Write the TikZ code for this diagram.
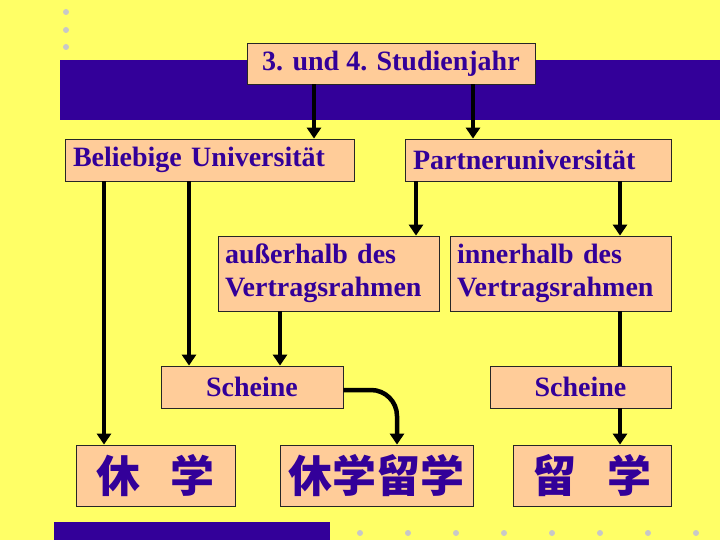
\documentclass[tikz,border=0pt]{standalone}
\usepackage{fontspec}
\setmainfont{Liberation Serif}
\newfontfamily\cjk{Noto Sans CJK SC}
\usetikzlibrary{arrows.meta}
\definecolor{bgyellow}{HTML}{FFFF66}
\definecolor{bandpurple}{HTML}{330099}
\definecolor{boxpeach}{HTML}{FFCC99}
\definecolor{dotgray}{HTML}{C8C8C8}

\begin{document}
\begin{tikzpicture}[
    x=1pt, y=-1pt,
    >={Triangle[length=11pt,width=14pt]},
    conn/.style={->,line width=4.5pt,black},
    plainconn/.style={line width=4.5pt,black},
    box/.style={draw=black!85,line width=0.8pt,fill=boxpeach,text=bandpurple,
        font=\bfseries\fontsize{28}{33}\selectfont,inner sep=0pt},
    hanbox/.style={box,font=\cjk\bfseries\fontsize{44}{44}\selectfont,
        minimum height=61pt},
]
% === Background and slide decoration ===
\useasboundingbox (0,0) rectangle (720,540);
\fill[bgyellow] (0,0) rectangle (720,540);
\fill[bandpurple] (60,60) rectangle (720,120);
\fill[bandpurple] (54,522) rectangle (330,540);
\foreach \y in {12,30,47}
    \fill[dotgray] (66,\y) circle (3);
\foreach \x in {360,408,...,696}
    \fill[dotgray] (\x,533) circle (3);

% === Boxes ===
\node[box,minimum width=288pt,minimum height=41pt] (top) at (391,63.5)
    {3. und 4. Studienjahr};
\node[box,minimum width=289pt,minimum height=42pt,text width=273pt,align=left]
    (beliebig) at (209.5,160) {Beliebige Universität};
\node[box,minimum width=266pt,minimum height=42pt,text width=250pt,align=left]
    (partner) at (538,160) {Partneruniversität};
\node[box,minimum width=221pt,minimum height=75pt,text width=207pt,align=left]
    (ausser) at (328.5,273.5) {außerhalb des\\Vertragsrahmen};
\node[box,minimum width=221pt,minimum height=75pt,text width=207pt,align=left]
    (inner) at (560.5,273.5) {innerhalb des\\Vertragsrahmen};
\node[box,minimum width=182pt,minimum height=42pt] (scheineL) at (252,387) {Scheine};
\node[box,minimum width=181pt,minimum height=42pt] (scheineR) at (580.5,387) {Scheine};
\node[hanbox,minimum width=159pt] (xiuxue) at (155.5,475.5) {休\hspace{31pt}学};
\node[hanbox,minimum width=193pt] (xiuliu) at (376.5,475.5) {休学留学};
\node[hanbox,minimum width=158pt] (liuxue) at (592,475.5) {留\hspace{31pt}学};

% === Connectors ===
\draw[conn] (top.south -| 314,0) -- (beliebig.north -| 314,0);
\draw[conn] (top.south -| 473,0) -- (partner.north -| 473,0);
\draw[conn] (beliebig.south -| 104,0) -- (xiuxue.north -| 104,0);
\draw[conn] (beliebig.south -| 189,0) -- (scheineL.north -| 189,0);
\draw[conn] (partner.south -| 416,0) -- (ausser.north -| 416,0);
\draw[conn] (partner.south -| 620,0) -- (inner.north -| 620,0);
\draw[conn] (ausser.south -| 280,0) -- (scheineL.north -| 280,0);
\draw[plainconn] (inner.south -| 620,0) -- (scheineR.north -| 620,0);
\draw[conn] (scheineR.south -| 620,0) -- (liuxue.north -| 620,0);
\draw[conn,rounded corners=26pt] ([yshift=-3pt]scheineL.east) -| (xiuliu.north -| 397,0);
\end{tikzpicture}
\end{document}
